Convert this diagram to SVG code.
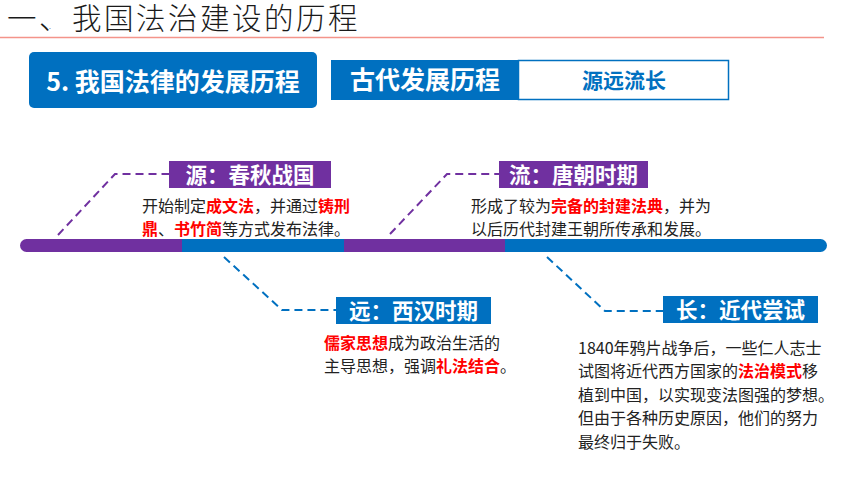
<svg xmlns="http://www.w3.org/2000/svg" width="860" height="484" viewBox="0 0 860 484">
<style>
.cjk{font-family:"Noto Sans CJK SC","Noto Sans",sans-serif;}
.lbl{font-family:"Noto Sans CJK SC",sans-serif;font-weight:bold;font-size:21.5px;fill:#fff;text-anchor:middle;}
.body{font-family:"Noto Sans CJK SC",sans-serif;font-size:16px;fill:#222;}
.hl{fill:#ff0000;font-weight:bold;}
.dp{fill:none;stroke:#7030a0;stroke-width:2;stroke-dasharray:8 5;}
.db{fill:none;stroke:#0070c0;stroke-width:2;stroke-dasharray:8 5;}
</style>
<defs>
<clipPath id="barclip"><rect x="20" y="239" width="807" height="13" rx="6.5"/></clipPath>
</defs>
<rect width="860" height="484" fill="#fff"/>
<g id="title">
<text x="7" y="29" class="cjk" font-size="29.5" font-weight="300" letter-spacing="2.5" fill="#1a1a1a">一、<tspan x="49" font-size="8">.</tspan><tspan x="72">我国法治建设的历程</tspan></text>
<line x1="0" y1="37.5" x2="824" y2="37.5" stroke="#f4948a" stroke-width="1.5"/>
</g>
<g id="header">
<rect x="29" y="52" width="288" height="56" rx="5" fill="#0070c0"/>
<text x="173" y="91" class="cjk" font-size="25" font-weight="bold" fill="#fff" text-anchor="middle">5. 我国法律的发展历程</text>
<rect x="331" y="60" width="187" height="40" fill="#0070c0"/>
<text x="425" y="89" class="cjk" font-size="25" font-weight="bold" fill="#fff" text-anchor="middle">古代发展历程</text>
<rect x="518.5" y="60.5" width="210" height="39" fill="#fff" stroke="#0070c0" stroke-width="1.5"/>
<text x="624" y="88" class="cjk" font-size="21" font-weight="bold" fill="#0070c0" text-anchor="middle">源远流长</text>
</g>
<g id="timeline" clip-path="url(#barclip)">
<rect x="20" y="239" width="162" height="13" fill="#7030a0"/>
<rect x="182" y="239" width="162" height="13" fill="#0070c0"/>
<rect x="344" y="239" width="161" height="13" fill="#7030a0"/>
<rect x="505" y="239" width="322" height="13" fill="#0070c0"/>
</g>
<g id="connectors">
<path class="dp" d="M58 235 L115 174 L169 174"/>
<path class="dp" d="M390 234 L447 174 L499 174"/>
<path class="db" d="M224 257 L282 310 L336 310"/>
<path class="db" d="M547 257 L605 311 L663 311"/>
</g>
<g id="node-yuan1">
<rect x="169" y="161" width="162" height="27" fill="#7030a0"/>
<text x="250" y="182.5" class="lbl">源：春秋战国</text>
<text class="body" x="142" y="212">开始制定<tspan class="hl">成文法</tspan>，并通过<tspan class="hl">铸刑</tspan></text>
<text class="body" x="142" y="235"><tspan class="hl">鼎</tspan>、<tspan class="hl">书竹简</tspan>等方式发布法律。</text>
</g>
<g id="node-liu">
<rect x="499" y="161" width="149" height="27" fill="#7030a0"/>
<text x="573.5" y="182.5" class="lbl">流：唐朝时期</text>
<text class="body" x="471" y="212">形成了较为<tspan class="hl">完备的封建法典</tspan>，并为</text>
<text class="body" x="471" y="235">以后历代封建王朝所传承和发展。</text>
</g>
<g id="node-yuan2">
<rect x="336" y="297" width="155" height="27" fill="#0070c0"/>
<text x="413.5" y="318.5" class="lbl">远：西汉时期</text>
<text class="body" x="324" y="349"><tspan class="hl">儒家思想</tspan>成为政治生活的</text>
<text class="body" x="324" y="372">主导思想，强调<tspan class="hl">礼法结合</tspan>。</text>
</g>
<g id="node-chang">
<rect x="663" y="296" width="155" height="27" fill="#0070c0"/>
<text x="740.5" y="317.5" class="lbl">长：近代尝试</text>
<text class="body" x="578" y="354" font-size="15.5">1840年鸦片战争后，一些仁人志士</text>
<text class="body" x="578" y="377" font-size="15.5">试图将近代西方国家的<tspan class="hl">法治模式</tspan>移</text>
<text class="body" x="578" y="401" font-size="15.5">植到中国，以实现变法图强的梦想。</text>
<text class="body" x="578" y="424" font-size="15.5">但由于各种历史原因，他们的努力</text>
<text class="body" x="578" y="448" font-size="15.5">最终归于失败。</text>
</g>
</svg>
